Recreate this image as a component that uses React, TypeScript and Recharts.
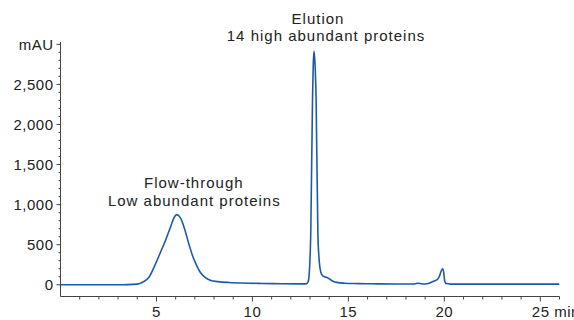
import React from 'react';
import { LineChart, Line, XAxis, YAxis, ReferenceDot } from 'recharts';

// Retention time (min) and absorbance (mAU)
const times = [
  0, 1, 2, 3, 3.5, 4.0, 4.3, 4.6, 4.95, 5.2, 5.45, 5.7, 5.9, 6.06, 6.25, 6.45, 6.7, 6.9, 7.05, 7.3,
  7.55, 7.8, 8.2, 8.8, 9.5, 10.5, 11.5, 12.5, 12.8, 12.9, 12.97, 13.04, 13.13, 13.17, 13.21, 13.26,
  13.32, 13.41, 13.48, 13.56, 13.65, 13.75, 13.88, 14.0, 14.2, 14.4, 14.8, 15.5, 16.5, 17.5, 18.4,
  18.55, 18.65, 18.8, 19.0, 19.2, 19.35, 19.5, 19.65, 19.75, 19.85, 19.92, 19.97, 20.02, 20.1, 20.3,
  21, 23, 26,
];
const absorbance = [
  0, 0, 0, 1, 2, 8, 35, 90, 260, 400, 540, 700, 830, 875, 835, 710, 500, 350, 265, 150,
  90, 58, 40, 29, 22, 17, 14, 12, 12, 35, 180, 650, 2300, 2750, 2915, 2760,
  2300, 650, 300, 160, 115, 100, 92, 75, 45, 30, 20, 15, 12, 10, 10,
  16, 20, 14, 10, 18, 35, 50, 70, 110, 180, 200, 150, 45, 15, 9,
  8, 8, 8,
];

const yMajorTicks = [0, 500, 1000, 1500, 2000, 2500, 3000];
const yTickLabels = ['0', '500', '1,000', '1,500', '2,000', '2,500', 'mAU'];
const xMajorTicks = [5, 10, 15, 20, 25];
const xTickLabels = ['5', '10', '15', '20', '25 min'];

const annotationTimes = [6.06, 13.21];
const annotationValues = [875, 2915];
const annotationTexts = [
  ['Flow-through', 'Low abundant proteins'],
  ['Elution', '14 high abundant proteins'],
];

const data = times.map((t, i) => ({ t, v: absorbance[i] }));
const yTicks: number[] = [];
for (let v = 0; v <= 3000; v += 100) yTicks.push(v);
const xTicks: number[] = [];
for (let m = 1; m <= 26; m++) xTicks.push(m);

const FONT = "'Liberation Sans', Arial, sans-serif";
const TEXT = '#222';
const AXIS = '#444';
const LINE = '#1c5aa8';

const YTick = (props: any) => {
  const { x, y, payload } = props;
  const idx = yMajorTicks.indexOf(payload.value);
  const major = idx >= 0;
  return (
    <g>
      <line x1={x - (major ? 4 : 2)} x2={x} y1={y} y2={y} stroke={AXIS} strokeWidth={1} />
      {major && (
        <text x={x - 7} y={y} dy="0.36em" textAnchor="end" fontFamily={FONT} fontSize={15}
          letterSpacing={0.5} fill={TEXT}>
          {yTickLabels[idx]}
        </text>
      )}
    </g>
  );
};

const XTick = (props: any) => {
  const { x, y, payload } = props;
  const idx = xMajorTicks.indexOf(payload.value);
  const major = idx >= 0;
  const isLast = idx === xMajorTicks.length - 1;
  return (
    <g>
      <line x1={x} x2={x} y1={y} y2={y + (major ? 5 : 3)} stroke={AXIS} strokeWidth={1} />
      {major && (
        <text x={isLast ? x - 8.5 : x} y={y + 20} textAnchor={isLast ? 'start' : 'middle'}
          fontFamily={FONT} fontSize={15} letterSpacing={0.5} fill={TEXT}>
          {xTickLabels[idx]}
        </text>
      )}
    </g>
  );
};

const labelOffsets = [
  [{ dx: 17, dy: -26.5 }, { dx: 17.5, dy: -8.3 }],
  [{ dx: 4, dy: -27 }, { dx: 12, dy: -10 }],
];

const makeLabel = (k: number) => (props: any) => {
  const vb = props.viewBox || {};
  const cx = vb.x + (vb.width || 0) / 2;
  const cy = vb.y + (vb.height || 0) / 2;
  return (
    <g>
      {annotationTexts[k].map((s, j) => (
        <text key={j} x={cx + labelOffsets[k][j].dx} y={cy + labelOffsets[k][j].dy}
          textAnchor="middle" fontFamily={FONT} fontSize={15} letterSpacing={1} fill={TEXT}>
          {s}
        </text>
      ))}
    </g>
  );
};

export default function App() {
  return (
    <div style={{ position: 'absolute', left: 0, top: 0, width: 574, height: 320, background: '#fff' }}>
      <LineChart width={574} height={320} data={data}
        margin={{ top: 42, right: 14.5, bottom: 0, left: 0.5 }}>
        <XAxis dataKey="t" type="number" domain={[0, 26]} ticks={xTicks} interval={0} height={23.5}
          tickLine={false} tickSize={0} tickMargin={0} tick={<XTick />}
          axisLine={{ stroke: AXIS, strokeWidth: 1 }} allowDataOverflow />
        <YAxis type="number" domain={[-146, 3029]} ticks={yTicks} interval={0} width={60}
          tickLine={false} tickSize={0} tickMargin={0} tick={<YTick />}
          axisLine={{ stroke: AXIS, strokeWidth: 1 }} allowDataOverflow />
        <Line type="monotone" dataKey="v" stroke={LINE} strokeWidth={1.6} dot={false}
          activeDot={false} isAnimationActive={false} />
        {annotationTimes.map((t, k) => (
          <ReferenceDot key={k} x={t} y={annotationValues[k]} r={0} fill="none" stroke="none"
            label={makeLabel(k)} />
        ))}
      </LineChart>
    </div>
  );
}
